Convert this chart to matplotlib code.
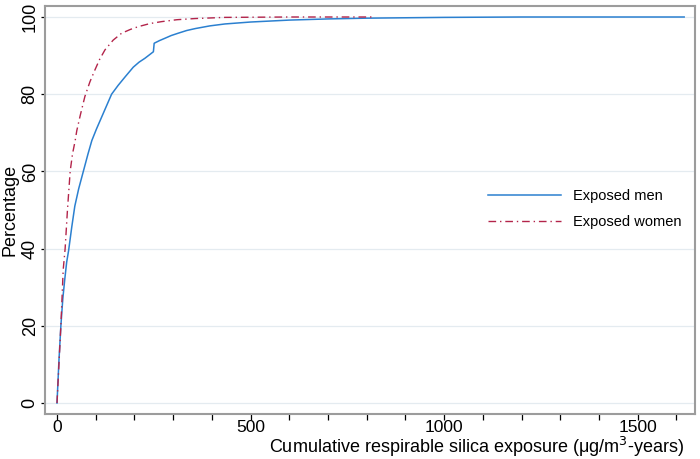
import matplotlib
matplotlib.use('Agg')
import matplotlib.pyplot as plt

plt.rcParams['font.family'] = ['Liberation Sans', 'DejaVu Sans']

# cumulative distribution of exposure
men_x = [0, 5, 10, 15, 20, 25, 30, 38, 46, 56, 68, 80, 90, 102, 115, 128, 141, 158,
         176, 197, 212, 227, 240, 249, 251, 265, 279, 295, 313, 335, 357, 395, 434,
         500, 600, 700, 800, 900, 1000, 1200, 1620]
men_y = [0, 11, 20, 27, 32, 36.5, 39.5, 45.5, 51, 55.5, 60, 64.5, 68, 71, 74, 77, 80,
         82.3, 84.5, 87, 88.3, 89.3, 90.3, 91, 93.2, 93.9, 94.5, 95.2, 95.8, 96.5, 97,
         97.7, 98.2, 98.7, 99.2, 99.5, 99.7, 99.8, 99.9, 100, 100]

women_x = [0, 5, 10, 16, 21, 27, 34, 40, 47, 51, 60, 72, 85, 98, 110, 124, 145, 167,
           190, 210, 240, 270, 310, 357, 434, 600, 816]
women_y = [0, 10, 20, 34.5, 40, 50, 60, 64.5, 68, 70.5, 74.5, 79.4, 83.2, 86.3, 89,
           91.5, 94, 95.8, 96.8, 97.5, 98.3, 98.8, 99.3, 99.6, 99.9, 100, 100]

y_ticks = [0, 20, 40, 60, 80, 100]
x_ticks = [0, 500, 1000, 1500]
x_minor = [100, 200, 300, 400, 600, 700, 800, 900, 1100, 1200, 1300, 1400, 1600]

fig = plt.figure(figsize=(7, 4.59), dpi=100)
ax = fig.add_axes([45/700, 45/459, 650/700, 408/459])

ax.plot(men_x, men_y, color='#2b80d0', lw=1.1, label='Exposed men')
ax.plot(women_x, women_y, color='#b3244a', lw=1.0, dashes=(5.5, 2.8, 1.0, 2.8),
        label='Exposed women')

ax.set_xlim(-31, 1648)
ax.set_ylim(-2.85, 102.85)
ax.set_yticks(y_ticks)
ax.set_xticks(x_ticks)
ax.set_xticks(x_minor, minor=True)
ax.grid(axis='y', color='#e4ebf0', lw=0.9)
ax.set_axisbelow(True)

for s in ax.spines.values():
    s.set_color('#9c9c9c')
    s.set_linewidth(1.5)

ax.tick_params(axis='both', which='both', direction='out', width=0.9, color='black')
ax.tick_params(axis='x', which='both', length=4.3, pad=0.3, labelsize=12.5)
ax.tick_params(axis='y', length=3, pad=1.5, labelsize=13)
for lab in ax.get_yticklabels():
    lab.set_rotation(90)
    lab.set_va('center')

ax.set_ylabel('Percentage', fontsize=13)
ax.yaxis.set_label_coords((10 - 45) / 650, 0.5)
ax.yaxis.label.set_va('center')
ax.set_xlabel('Cumulative respirable silica exposure (μg/m$^3$-years)', fontsize=13)
ax.xaxis.set_label_coords((684 - 45) / 650, (414 - 447) / 408)
ax.xaxis.label.set_ha('right')
ax.xaxis.label.set_va('center')

ax.legend(loc='center left', bbox_to_anchor=((488 - 45) / 650, (414 - 209) / 408),
          frameon=False, fontsize=10.5, handlelength=5.0, handletextpad=0.85,
          labelspacing=0.85, borderpad=0, borderaxespad=0)

fig.savefig('out.png', dpi=100)
